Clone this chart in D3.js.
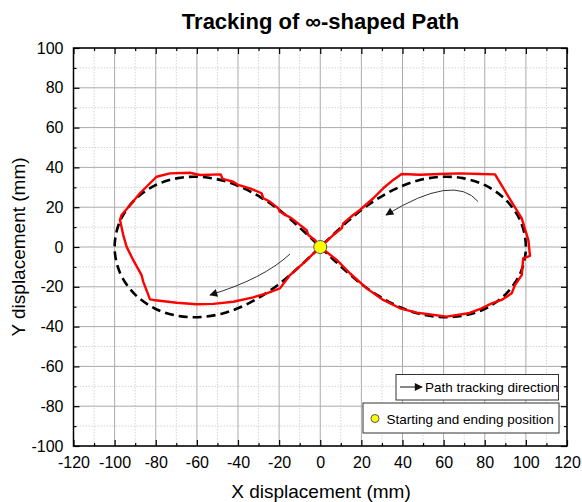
<!DOCTYPE html>
<html>
<head>
<meta charset="utf-8">
<script src="https://cdn.jsdelivr.net/npm/d3@7"></script>
<style>
  body { margin: 0; background: #fff; }
  text { font-family: "Liberation Sans", Arial, sans-serif; fill: #000; }
</style>
</head>
<body>
<script>
// reference path (dashed)
var refX = [0, 6.6, 13.4, 20.6, 28.6, 37.4, 47.1, 57.9, 69.3, 80.6, 90.5, 97.5, 100, 97.5, 90.5, 80.6, 69.3, 57.9, 47.1, 37.4, 28.6, 20.6, 13.4, 6.6,
            0, -6.6, -13.4, -20.6, -28.6, -37.4, -47.1, -57.9, -69.3, -80.6, -90.5, -97.5, -100, -97.5, -90.5, -80.6, -69.3, -57.9, -47.1, -37.4, -28.6, -20.6, -13.4, -6.6]
  , refY = [0, 6.5, 12.9, 19.1, 24.7, 29.6, 33.3, 35.2, 34.6, 30.8, 23.4, 12.7, 0, -12.7, -23.4, -30.8, -34.6, -35.2, -33.3, -29.6, -24.7, -19.1, -12.9, -6.5,
            0, 6.5, 12.9, 19.1, 24.7, 29.6, 33.3, 35.2, 34.6, 30.8, 23.4, 12.7, 0, -12.7, -23.4, -30.8, -34.6, -35.2, -33.3, -29.6, -24.7, -19.1, -12.9, -6.5]
  ;

// measured path (red)
var trackX = [0, -8.3, -14.7, -19.6, -26.1, -32.6, -42.3, -52, -60.1, -69.8, -81.2, -82.8, -86.1, -86.9, -91, -94.2, -95.8, -97.4, -96.6, -91.7, -87.7, -79.6, -73.1, -63.4, -58.5,
              -48.4, -47.5, -42.3, -39.9, -34.2, -28.5, -27.7, -24.5, -20.4, -19.6, -13.9, -9.9, -6.6, -5.8, -2.6,
              0, 8, 14.4, 22.6, 30.6, 38.8, 46.9, 51.8, 61.5, 72, 78.5, 83.4, 88.2, 93.1, 94.7, 98, 98.7, 102, 101.2, 98, 91.5, 85, 77.7, 67.9, 58.2, 48.5, 39.6,
              35.5, 30.6, 25.8, 19.3, 16, 11.2, 10.4, 6.3, 0]
  , trackY = [0, -8.2, -14.1, -20.8, -23.3, -25.3, -27.5, -28.6, -28.8, -28, -26.6, -26.3, -17.4, -14.1, -6.5, 0.2, 6, 13.6, 16.1, 22, 27, 35.3, 37, 37.3, 36.2,
              36.5, 34.2, 32.8, 31.2, 29.5, 27, 24.5, 22.8, 19.4, 17.7, 14.4, 11.1, 8.5, 6, 3.5,
              0, -6.5, -13.2, -20.8, -26.6, -30.8, -33, -33.7, -35, -33.3, -30.8, -28.3, -26.6, -23.3, -19.1, -14.1, -5.7, -4.4, 3.5, 14.4, 25.3, 36.5, 36.7, 37, 36.7, 36.3, 36.7,
              33.7, 29.5, 24.5, 18.6, 16.1, 11.9, 9.4, 6, 0]
  ;

// direction arrows: [start, control, end] in data units
var arrowLeft = [[-14.7, -3.5], [-27.7, -16], [-53.6, -24.1]]
  , arrowRight = [[76.8, 22.8], [65.2, 37.2], [32, 16.1]]
  , startPoint = [0, 0]
  ;

var xTicks = d3.range(-120, 121, 20)
  , yTicks = d3.range(-100, 101, 20)
  , xMinor = d3.range(-110, 120, 20)
  , yMinor = d3.range(-90, 100, 20)
  ;

var width = 582
  , height = 502
  , pLeft = 73.5
  , pRight = 567
  , pTop = 48
  , pBottom = 446
  ;

var x = d3.scaleLinear().domain([-120, 120]).range([pLeft, pRight]);
var y = d3.scaleLinear().domain([-100, 100]).range([pBottom, pTop]);
var fmt = function (d) { return String(d); };

var svg = d3.select("body").append("svg").attr("width", width).attr("height", height);

svg.append("defs").append("marker")
    .attr("id", "head")
    .attr("viewBox", "0 0 10 10")
    .attr("refX", 9).attr("refY", 5)
    .attr("markerWidth", 11).attr("markerHeight", 8)
    .attr("markerUnits", "userSpaceOnUse")
    .attr("orient", "auto")
  .append("path")
    .attr("d", "M0,0L10,5L0,10Z")
    .attr("fill", "#111");

// grid
var grid = svg.append("g");
grid.selectAll(".vminor").data(xMinor).enter().append("line")
    .attr("x1", x).attr("x2", x).attr("y1", pTop).attr("y2", pBottom)
    .attr("stroke", "#d4d4d4").attr("stroke-dasharray", "1.5,1.5");
grid.selectAll(".hminor").data(yMinor).enter().append("line")
    .attr("y1", y).attr("y2", y).attr("x1", pLeft).attr("x2", pRight)
    .attr("stroke", "#d4d4d4").attr("stroke-dasharray", "1.5,1.5");
grid.selectAll(".vmajor").data(xTicks).enter().append("line")
    .attr("x1", x).attr("x2", x).attr("y1", pTop).attr("y2", pBottom)
    .attr("stroke", "#ababab");
grid.selectAll(".hmajor").data(yTicks).enter().append("line")
    .attr("y1", y).attr("y2", y).attr("x1", pLeft).attr("x2", pRight)
    .attr("stroke", "#ababab");

// reference path
var refPts = refX.map(function (d, i) { return [d, refY[i]]; });
svg.append("path")
    .attr("d", d3.line().x(function (d) { return x(d[0]); }).y(function (d) { return y(d[1]); })
        .curve(d3.curveCatmullRomClosed)(refPts))
    .attr("fill", "none")
    .attr("stroke", "#000")
    .attr("stroke-width", 2.6)
    .attr("stroke-dasharray", "9,5");

// measured path
var trackPts = trackX.map(function (d, i) { return [d, trackY[i]]; });
svg.append("path")
    .attr("d", d3.line().x(function (d) { return x(d[0]); }).y(function (d) { return y(d[1]); })(trackPts))
    .attr("fill", "none")
    .attr("stroke", "#ff0000")
    .attr("stroke-width", 2.4)
    .attr("stroke-linejoin", "round");

// arrows
[arrowLeft, arrowRight].forEach(function (a) {
    var p = d3.path();
    p.moveTo(x(a[0][0]), y(a[0][1]));
    p.quadraticCurveTo(x(a[1][0]), y(a[1][1]), x(a[2][0]), y(a[2][1]));
    svg.append("path")
        .attr("d", p.toString())
        .attr("fill", "none")
        .attr("stroke", "#333")
        .attr("stroke-width", 1)
        .attr("marker-end", "url(#head)");
});

// start point
svg.append("circle")
    .attr("cx", x(startPoint[0])).attr("cy", y(startPoint[1])).attr("r", 6.5)
    .attr("fill", "#ffff00").attr("stroke", "#555").attr("stroke-width", 1);

// axes
function clean (g) { g.select(".domain").remove(); g.selectAll("text").style("font-size", "16px"); }

svg.append("g").attr("transform", "translate(0," + pBottom + ")")
    .call(d3.axisBottom(x).tickValues(xTicks).tickSizeInner(-6).tickSizeOuter(0).tickPadding(11).tickFormat(fmt))
    .call(clean);
svg.append("g").attr("transform", "translate(0," + pBottom + ")")
    .call(d3.axisBottom(x).tickValues(xMinor).tickSizeInner(-3).tickSizeOuter(0).tickFormat(""))
    .call(clean);
svg.append("g").attr("transform", "translate(0," + pTop + ")")
    .call(d3.axisTop(x).tickValues(xTicks).tickSizeInner(-6).tickSizeOuter(0).tickFormat(""))
    .call(clean);
svg.append("g").attr("transform", "translate(0," + pTop + ")")
    .call(d3.axisTop(x).tickValues(xMinor).tickSizeInner(-3).tickSizeOuter(0).tickFormat(""))
    .call(clean);
svg.append("g").attr("transform", "translate(" + pLeft + ",0)")
    .call(d3.axisLeft(y).tickValues(yTicks).tickSizeInner(-6).tickSizeOuter(0).tickPadding(10).tickFormat(fmt))
    .call(clean);
svg.append("g").attr("transform", "translate(" + pLeft + ",0)")
    .call(d3.axisLeft(y).tickValues(yMinor).tickSizeInner(-3).tickSizeOuter(0).tickFormat(""))
    .call(clean);
svg.append("g").attr("transform", "translate(" + pRight + ",0)")
    .call(d3.axisRight(y).tickValues(yTicks).tickSizeInner(-6).tickSizeOuter(0).tickFormat(""))
    .call(clean);
svg.append("g").attr("transform", "translate(" + pRight + ",0)")
    .call(d3.axisRight(y).tickValues(yMinor).tickSizeInner(-3).tickSizeOuter(0).tickFormat(""))
    .call(clean);

svg.selectAll(".tick line").attr("stroke", "#000").attr("stroke-width", 1.2);

// legend
var lg = svg.append("g");
lg.append("rect").attr("x", 396).attr("y", 374.5).attr("width", 162.5).attr("height", 25.5)
    .attr("fill", "#fff").attr("stroke", "#333");
lg.append("line").attr("x1", 400).attr("x2", 422).attr("y1", 387).attr("y2", 387)
    .attr("stroke", "#111").attr("marker-end", "url(#head)");
lg.append("text").attr("x", 425).attr("y", 392).style("font-size", "13.5px").text("Path tracking direction");

lg.append("rect").attr("x", 363).attr("y", 403).attr("width", 196).attr("height", 30)
    .attr("fill", "#fff").attr("stroke", "#333");
lg.append("circle").attr("cx", 375).attr("cy", 418.5).attr("r", 4)
    .attr("fill", "#ffff00").attr("stroke", "#555");
lg.append("text").attr("x", 386.5).attr("y", 423.5).style("font-size", "13.5px").text("Starting and ending position");

// frame
svg.append("rect").attr("x", pLeft).attr("y", pTop).attr("width", pRight - pLeft).attr("height", pBottom - pTop)
    .attr("fill", "none").attr("stroke", "#000").attr("stroke-width", 1.5);

// titles
svg.append("text").attr("x", 320.5).attr("y", 29).attr("text-anchor", "middle")
    .style("font-size", "22px").style("font-weight", "bold").text("Tracking of \u221e-shaped Path");
svg.append("text").attr("x", 321).attr("y", 498).attr("text-anchor", "middle")
    .style("font-size", "19px").text("X displacement (mm)");
svg.append("text").attr("transform", "translate(25,247) rotate(-90)").attr("text-anchor", "middle")
    .style("font-size", "19px").text("Y displacement (mm)");
</script>
</body>
</html>
